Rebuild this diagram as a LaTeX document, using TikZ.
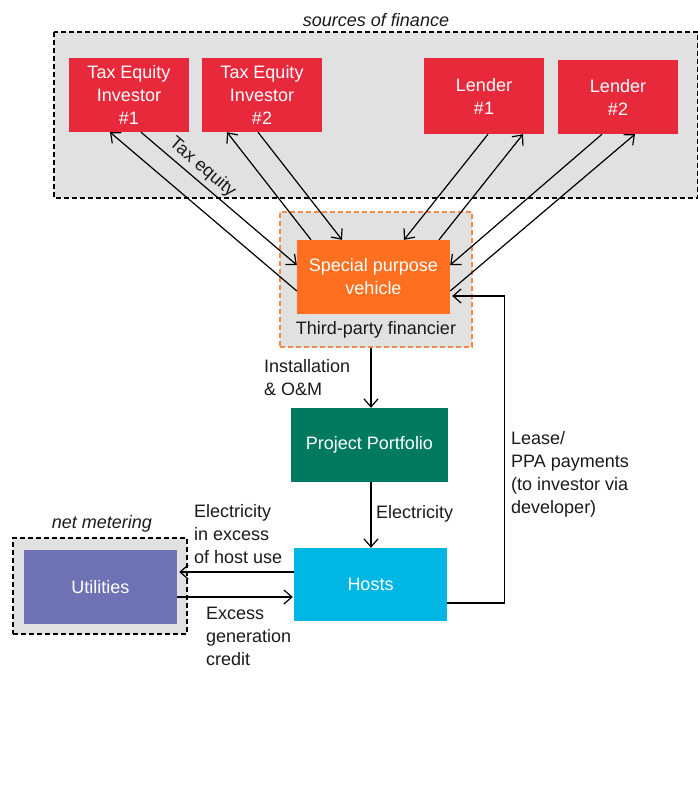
\documentclass[tikz,border=0pt]{standalone}
\usepackage{fontspec}
\setmainfont{Liberation Sans}
\usetikzlibrary{arrows.meta}
\definecolor{finred}{RGB}{232,41,60}
\definecolor{spvorange}{RGB}{255,111,32}
\definecolor{tpfborder}{RGB}{245,138,74}
\definecolor{ppgreen}{RGB}{0,122,94}
\definecolor{hostcyan}{RGB}{0,182,227}
\definecolor{utilblue}{RGB}{110,114,180}
\definecolor{panelgray}{RGB}{225,225,225}
\definecolor{labelink}{RGB}{26,26,26}
\begin{document}
\begin{tikzpicture}[x=1pt,y=-1pt,
  font=\fontsize{18}{23}\selectfont,
  box/.style={fill=#1, text=white, inner sep=0, align=center},
  panel/.style={fill=panelgray, draw=#1, line width=1.2pt, dash pattern=on 5pt off 3pt},
  lbl/.style={text=labelink, inner sep=0, align=left, anchor=west},
  arr/.style={draw=black, line width=1.2pt, -{Straight Barb[length=8pt,width=14pt]}}]
\useasboundingbox (0,0) rectangle (697,789);

% grouping panels
\draw[panel=black] (54,32) rectangle (698,198);
\node[text=labelink, font=\fontsize{18}{23}\selectfont\itshape] (srclbl) at (376,20) {sources of finance};
\node[panel=tpfborder, minimum width=192pt, minimum height=135pt] (tpf) at (376,279.5) {};
\node[text=labelink] (tpflbl) at (376,330) {Third-party financier};
\node[panel=black, minimum width=174pt, minimum height=96pt] (nm) at (100,586) {};
\node[text=labelink, font=\fontsize{18}{23}\selectfont\itshape] (nmlbl) at (102,524) {net metering};

% sources of finance
\node[box=finred, minimum width=120pt, minimum height=74pt] (tei1) at (129,95) {Tax Equity\\Investor\\\#1};
\node[box=finred, minimum width=120pt, minimum height=74pt] (tei2) at (262,95) {Tax Equity\\Investor\\\#2};
\node[box=finred, minimum width=120pt, minimum height=76pt] (len1) at (484,96) {Lender\\\#1};
\node[box=finred, minimum width=120pt, minimum height=74pt] (len2) at (618,97) {Lender\\\#2};

% financier, portfolio, hosts, utilities
\node[box=spvorange, minimum width=153pt, minimum height=74pt] (spv) at (373.5,277) {Special purpose\\vehicle};
\node[box=ppgreen, minimum width=157pt, minimum height=74pt] (pp) at (369.5,445) {Project Portfolio};
\node[box=hostcyan, minimum width=153pt, minimum height=73pt] (hosts) at (370.5,584.5) {Hosts};
\node[box=utilblue, minimum width=153pt, minimum height=74pt] (util) at (100.5,587) {Utilities};

% flows between the vehicle and its sources of finance
\draw[arr] ([yshift=-14pt]spv.west) -- ([xshift=-19pt]tei1.south);
\draw[arr] ([xshift=12pt]tei1.south) -- node[pos=0.34, sloped, above, inner sep=4pt, text=labelink] (telbl) {Tax equity} ([yshift=12pt]spv.west);
\draw[arr] ([xshift=-62.5pt]spv.north) -- ([xshift=-35pt]tei2.south);
\draw[arr] ([xshift=-4pt]tei2.south) -- ([xshift=-31.5pt]spv.north);
\draw[arr] ([xshift=4pt]len1.south) -- ([xshift=30.5pt]spv.north);
\draw[arr] ([xshift=65.5pt]spv.north) -- ([xshift=39pt]len1.south);
\draw[arr] ([xshift=-16pt]len2.south) -- ([yshift=12pt]spv.east);
\draw[arr] ([yshift=-14pt]spv.east) -- ([xshift=17pt]len2.south);

% installation and electricity
\draw[arr] ([xshift=1.5pt]pp.north |- tpf.south) -- ([xshift=1.5pt]pp.north);
\node[lbl] (instlbl) at (264,378) {Installation\\\& O\&M};
\draw[arr] ([xshift=1.5pt]pp.south) -- ([xshift=1.5pt]pp.south |- hosts.north);
\node[lbl] (eleclbl) at (376,514) {Electricity};

% net metering exchange
\draw[arr] ([yshift=12.5pt]hosts.west) -- ([yshift=12.5pt,xshift=2pt]hosts.west -| util.east);
\node[lbl] (excesslbl) at (194,534) {Electricity\\in excess\\of host use};
\draw[arr] ([yshift=-12.5pt]hosts.west -| util.east) -- ([yshift=-12.5pt,xshift=-1pt]hosts.west);
\node[lbl] (creditlbl) at (206,636) {Excess\\generation\\credit};

% lease / PPA payments back to the vehicle
\draw[arr] ([yshift=-18.5pt]hosts.east) -- ++(57,0) |- ([yshift=-19pt,xshift=2pt]spv.east);
\node[lbl] (leaselbl) at (511,474) {Lease/\\PPA payments\\(to investor via\\developer)};
\end{tikzpicture}
\end{document}
